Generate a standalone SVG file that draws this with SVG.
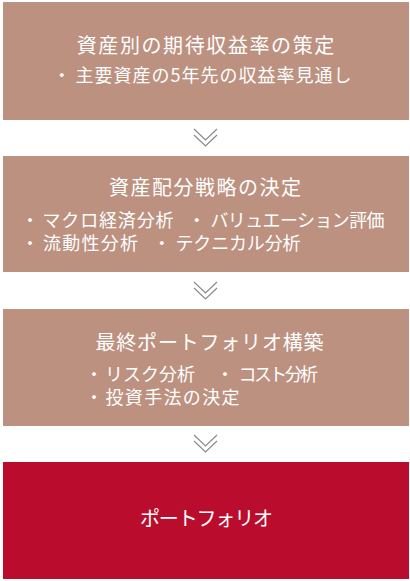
<svg xmlns="http://www.w3.org/2000/svg" width="410" height="581" viewBox="0 0 410 581">
<style>
.box{fill:#BD9180}
.red{fill:#BA0D2D}
text{font-family:"Noto Sans CJK JP","Noto Sans",sans-serif;fill:#fff}
.t{font-size:20px}
.b{font-size:18px}
.dot{font-size:18px;text-anchor:middle}
.chev{fill:none;stroke:#8a8a8a;stroke-width:1.2}
</style>
<rect width="410" height="581" fill="#fff"/>
<g id="step1">
<rect class="box" x="3" y="2" width="406" height="118"/>
<text class="t" x="76.7" y="53" textLength="257.6" lengthAdjust="spacing">資産別の期待収益率の策定</text>
<text class="dot" x="61.7" y="82">・</text>
<text class="b" x="75.5" y="82" textLength="276" lengthAdjust="spacing">主要資産の5年先の収益率見通し</text>
</g>
<g id="step2">
<rect class="box" x="3" y="156" width="406" height="116"/>
<text class="t" x="109" y="195" textLength="192" lengthAdjust="spacing">資産配分戦略の決定</text>
<text class="dot" x="30" y="227">・</text>
<text class="b" x="42.5" y="227" textLength="131" lengthAdjust="spacing">マクロ経済分析</text>
<text class="dot" x="196.7" y="227">・</text>
<text class="b" x="210.5" y="227" textLength="174" lengthAdjust="spacing">バリュエーション評価</text>
<text class="dot" x="30" y="249.5">・</text>
<text class="b" x="43" y="249.5" textLength="95" lengthAdjust="spacing">流動性分析</text>
<text class="dot" x="161.7" y="249.5">・</text>
<text class="b" x="175.5" y="249.5" textLength="125" lengthAdjust="spacing">テクニカル分析</text>
</g>
<g id="step3">
<rect class="box" x="3" y="309" width="406" height="117"/>
<text class="t" x="95.5" y="350" textLength="228" lengthAdjust="spacing">最終ポートフォリオ構築</text>
<text class="dot" x="94" y="380.5">・</text>
<text class="b" x="105" y="380.5" textLength="90" lengthAdjust="spacing">リスク分析</text>
<text class="dot" x="225" y="380.5">・</text>
<text class="b" x="238.5" y="380.5" textLength="79.5" lengthAdjust="spacing">コスト分析</text>
<text class="dot" x="94" y="403.5">・</text>
<text class="b" x="105.5" y="403.5" textLength="134" lengthAdjust="spacing">投資手法の決定</text>
</g>
<g id="result">
<rect class="red" x="3" y="462" width="406" height="117"/>
<text class="t" x="140" y="526" textLength="133" lengthAdjust="spacing">ポートフォリオ</text>
</g>
<g id="connectors">
<path class="chev" d="M194 129 L205.5 140 L217 129 M194 135 L205.5 146 L217 135"/>
<path class="chev" d="M194 282 L205.5 293 L217 282 M194 288 L205.5 299 L217 288"/>
<path class="chev" d="M194 435 L205.5 446 L217 435 M194 441 L205.5 452 L217 441"/>
</g>
</svg>
